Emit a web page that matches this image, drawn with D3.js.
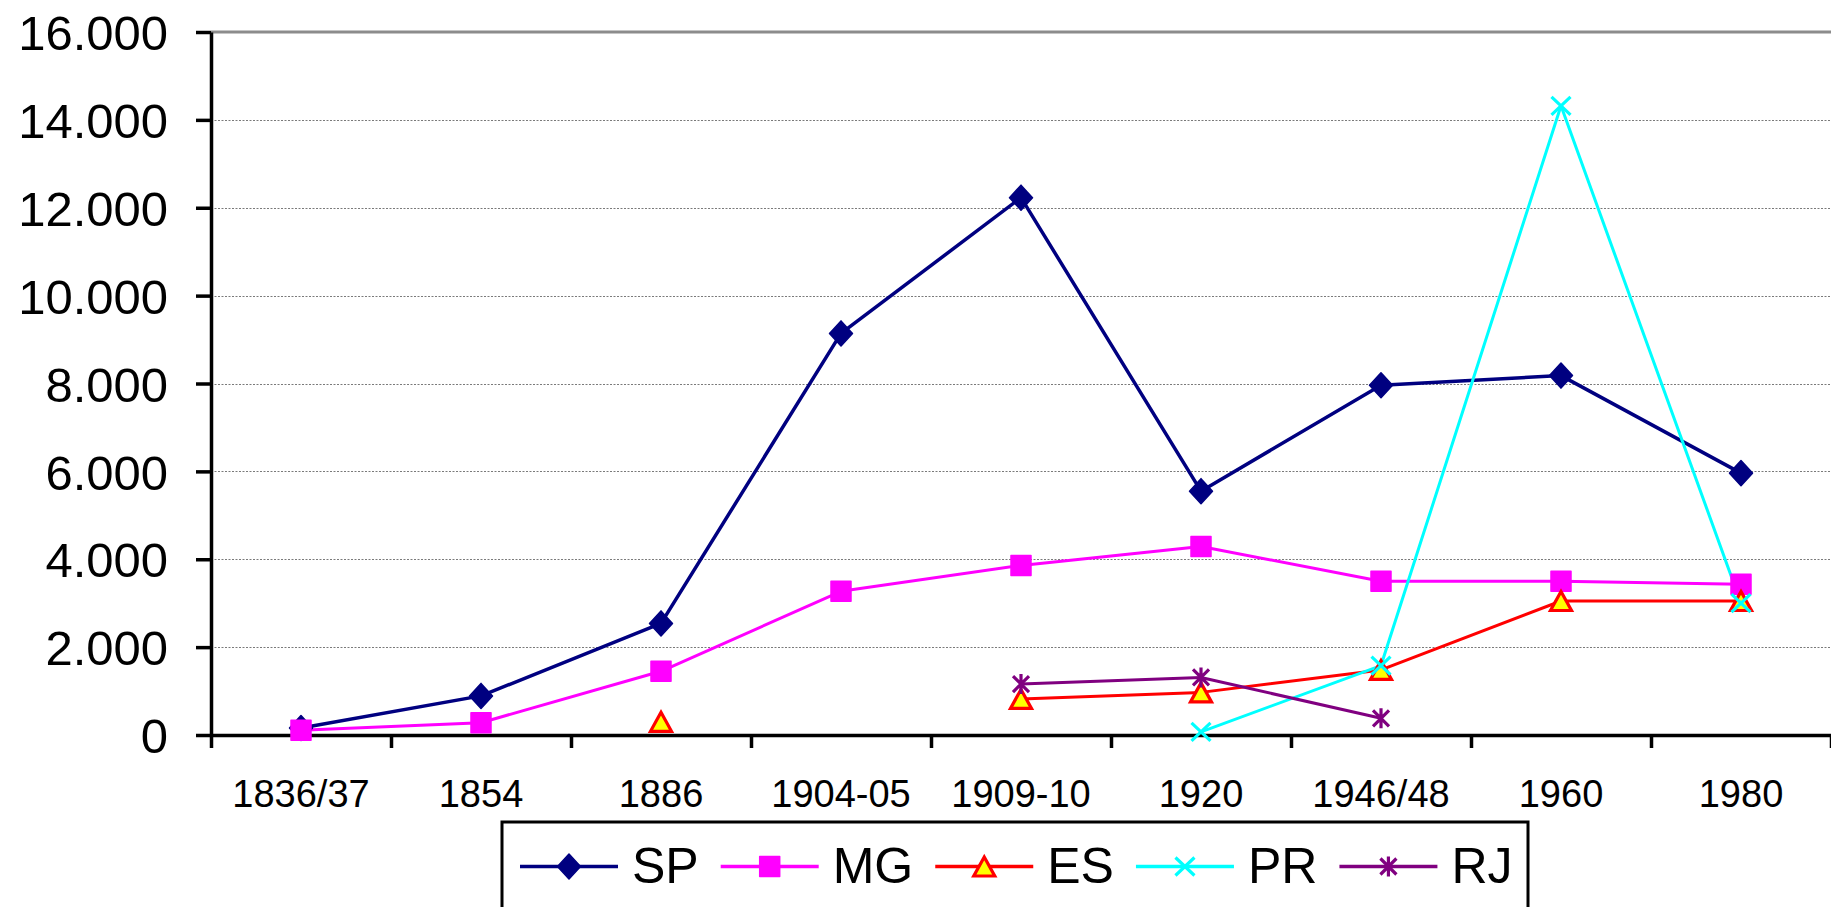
<!DOCTYPE html>
<html>
<head>
<meta charset="utf-8">
<script src="https://cdn.jsdelivr.net/npm/d3@7"></script>
<style>
  html, body { margin: 0; padding: 0; background: #ffffff; }
  svg { display: block; font-family: "Liberation Sans", Arial, sans-serif; }
</style>
</head>
<body>
<svg id="chart" width="1831" height="907"></svg>
<script>
// Periods on the horizontal axis
const categories = ["1836/37", "1854", "1886", "1904-05", "1909-10", "1920", "1946/48", "1960", "1980"];

// One value per period for each state (null = no figure for that period)
const spValues = [160, 890, 2540, 9140, 12230, 5550, 7960, 8180, 5960];
const mgValues = [110, 280, 1450, 3270, 3860, 4290, 3500, 3500, 3430];
const esValues = [null, null, 300, null, 820, 970, 1480, 3050, 3050];
const prValues = [null, null, null, null, null, 70, 1580, 14320, 3000];
const rjValues = [null, null, null, null, 1160, 1310, 380, null, null];

const seriesNames = ["SP", "MG", "ES", "PR", "RJ"];
const yTickValues = [0, 2000, 4000, 6000, 8000, 10000, 12000, 14000, 16000];

const seriesData = [spValues, mgValues, esValues, prValues, rjValues];
const seriesStyle = {
  SP: { color: "#000080", marker: "diamond", width: 3.5 },
  MG: { color: "#FF00FF", marker: "square", width: 3 },
  ES: { color: "#FF0000", marker: "triangle", width: 3 },
  PR: { color: "#00FFFF", marker: "x", width: 3 },
  RJ: { color: "#800080", marker: "star", width: 3 }
};

const series = seriesNames.map((name, i) => ({
  name,
  style: seriesStyle[name],
  points: categories.map((c, j) => ({ cat: c, value: seriesData[i][j] }))
}));

const svg = d3.select("#chart");

const plot = { left: 211, right: 1831, top: 32, bottom: 735 };

const x = d3.scaleBand().domain(categories).range([plot.left, plot.right]);
const xEdge = d3.scaleLinear().domain([0, categories.length]).range([plot.left, plot.right]);
const y = d3.scaleLinear().domain([0, 16000]).range([plot.bottom, plot.top]);

const ptBR = d3.formatLocale({ decimal: ",", thousands: ".", grouping: [3], currency: ["R$", ""] });
const fmt = ptBR.format(",d");

// Horizontal gridlines
svg.append("g")
  .selectAll("line")
  .data(yTickValues.filter(v => v > 0 && v < 16000))
  .join("line")
  .attr("x1", plot.left).attr("x2", plot.right)
  .attr("y1", d => Math.round(y(d)) + 0.5).attr("y2", d => Math.round(y(d)) + 0.5)
  .attr("stroke", "#7a7a7a")
  .attr("stroke-width", 1)
  .attr("stroke-dasharray", "2,1.5");

// Plot-area border along the top
svg.append("line")
  .attr("x1", plot.left).attr("x2", plot.right)
  .attr("y1", y(16000)).attr("y2", y(16000))
  .attr("stroke", "#8c8c8c")
  .attr("stroke-width", 3);

// Y axis
const yAxis = svg.append("g")
  .attr("transform", `translate(${plot.left},0)`)
  .call(d3.axisLeft(y).tickValues(yTickValues).tickSize(15).tickSizeOuter(0).tickPadding(28).tickFormat(fmt));
yAxis.select(".domain").attr("stroke", "#000").attr("stroke-width", 3.5);
yAxis.selectAll(".tick line").attr("stroke", "#000").attr("stroke-width", 3.5);
yAxis.selectAll(".tick text")
  .attr("font-size", 49)
  .attr("fill", "#000")
  .attr("font-family", "Liberation Sans, Arial, sans-serif")
  .attr("dy", "0.36em");

// X axis: ticks sit on category boundaries, labels at category centres
const xTicks = svg.append("g")
  .attr("transform", `translate(0,${plot.bottom})`)
  .call(d3.axisBottom(xEdge).tickValues(d3.range(categories.length + 1)).tickSize(13).tickSizeOuter(0).tickFormat(""));
xTicks.select(".domain").attr("stroke", "#000").attr("stroke-width", 3.5);
xTicks.selectAll(".tick line").attr("stroke", "#000").attr("stroke-width", 3.5);

const xLabels = svg.append("g")
  .attr("transform", `translate(0,${plot.bottom})`)
  .call(d3.axisBottom(x).tickSize(0).tickPadding(0));
xLabels.select(".domain").remove();
xLabels.selectAll(".tick text")
  .attr("font-size", 38)
  .attr("fill", "#000")
  .attr("font-family", "Liberation Sans, Arial, sans-serif")
  .attr("y", 72)
  .attr("dy", 0);

// Marker shapes
function markerPath(kind) {
  switch (kind) {
    case "diamond": return "M0,-12.5L11.5,0L0,12.5L-11.5,0Z";
    case "square": return "M-10,-10H10V10H-10Z";
    case "triangle": return "M0,-9.5L10.5,9.5H-10.5Z";
    case "x": return "M-9.5,-9L9.5,9M9.5,-9L-9.5,9";
    case "star": return "M-8,-8L8,8M8,-8L-8,8M0,-10V10";
  }
}
function styleMarker(sel, st) {
  const k = st.marker;
  if (k === "triangle") {
    sel.attr("fill", "#FFFF00").attr("stroke", st.color).attr("stroke-width", 3.2).attr("stroke-linejoin", "miter");
  } else if (k === "x" || k === "star") {
    sel.attr("fill", "none").attr("stroke", st.color).attr("stroke-width", 3.2);
  } else {
    sel.attr("fill", st.color).attr("stroke", st.color).attr("stroke-width", 1.5).attr("stroke-linejoin", "round");
  }
}

const cx = d => x(d.cat) + x.bandwidth() / 2;

// Lines, drawn first for every series
const line = d3.line()
  .defined(d => d.value !== null)
  .x(cx)
  .y(d => y(d.value));

svg.append("g")
  .selectAll("path")
  .data(series)
  .join("path")
  .attr("d", s => line(s.points))
  .attr("fill", "none")
  .attr("stroke", s => s.style.color)
  .attr("stroke-width", s => s.style.width)
  .attr("stroke-linejoin", "round");

// Markers on top
const markerLayer = svg.append("g");
series.forEach(s => {
  markerLayer.append("g")
    .selectAll("path")
    .data(s.points.filter(p => p.value !== null))
    .join("path")
    .attr("d", markerPath(s.style.marker))
    .attr("transform", p => `translate(${cx(p)},${y(p.value)})`)
    .call(styleMarker, s.style);
});

// Legend
const legend = svg.append("g");
legend.append("rect")
  .attr("x", 502).attr("y", 822)
  .attr("width", 1026).attr("height", 110)
  .attr("fill", "#fff")
  .attr("stroke", "#000")
  .attr("stroke-width", 3);

let lx = 520;
const ly = 866.5;
series.forEach(s => {
  const g = legend.append("g");
  g.append("line")
    .attr("x1", lx).attr("x2", lx + 98)
    .attr("y1", ly).attr("y2", ly)
    .attr("stroke", s.style.color)
    .attr("stroke-width", 3.5);
  g.append("path")
    .attr("d", markerPath(s.style.marker))
    .attr("transform", `translate(${lx + 49},${ly})`)
    .call(styleMarker, s.style);
  const t = g.append("text")
    .attr("x", lx + 112)
    .attr("y", 883)
    .attr("font-size", 50)
    .attr("fill", "#000")
    .text(s.name);
  lx = lx + 112 + t.node().getComputedTextLength() + 22;
});
</script>
</body>
</html>
